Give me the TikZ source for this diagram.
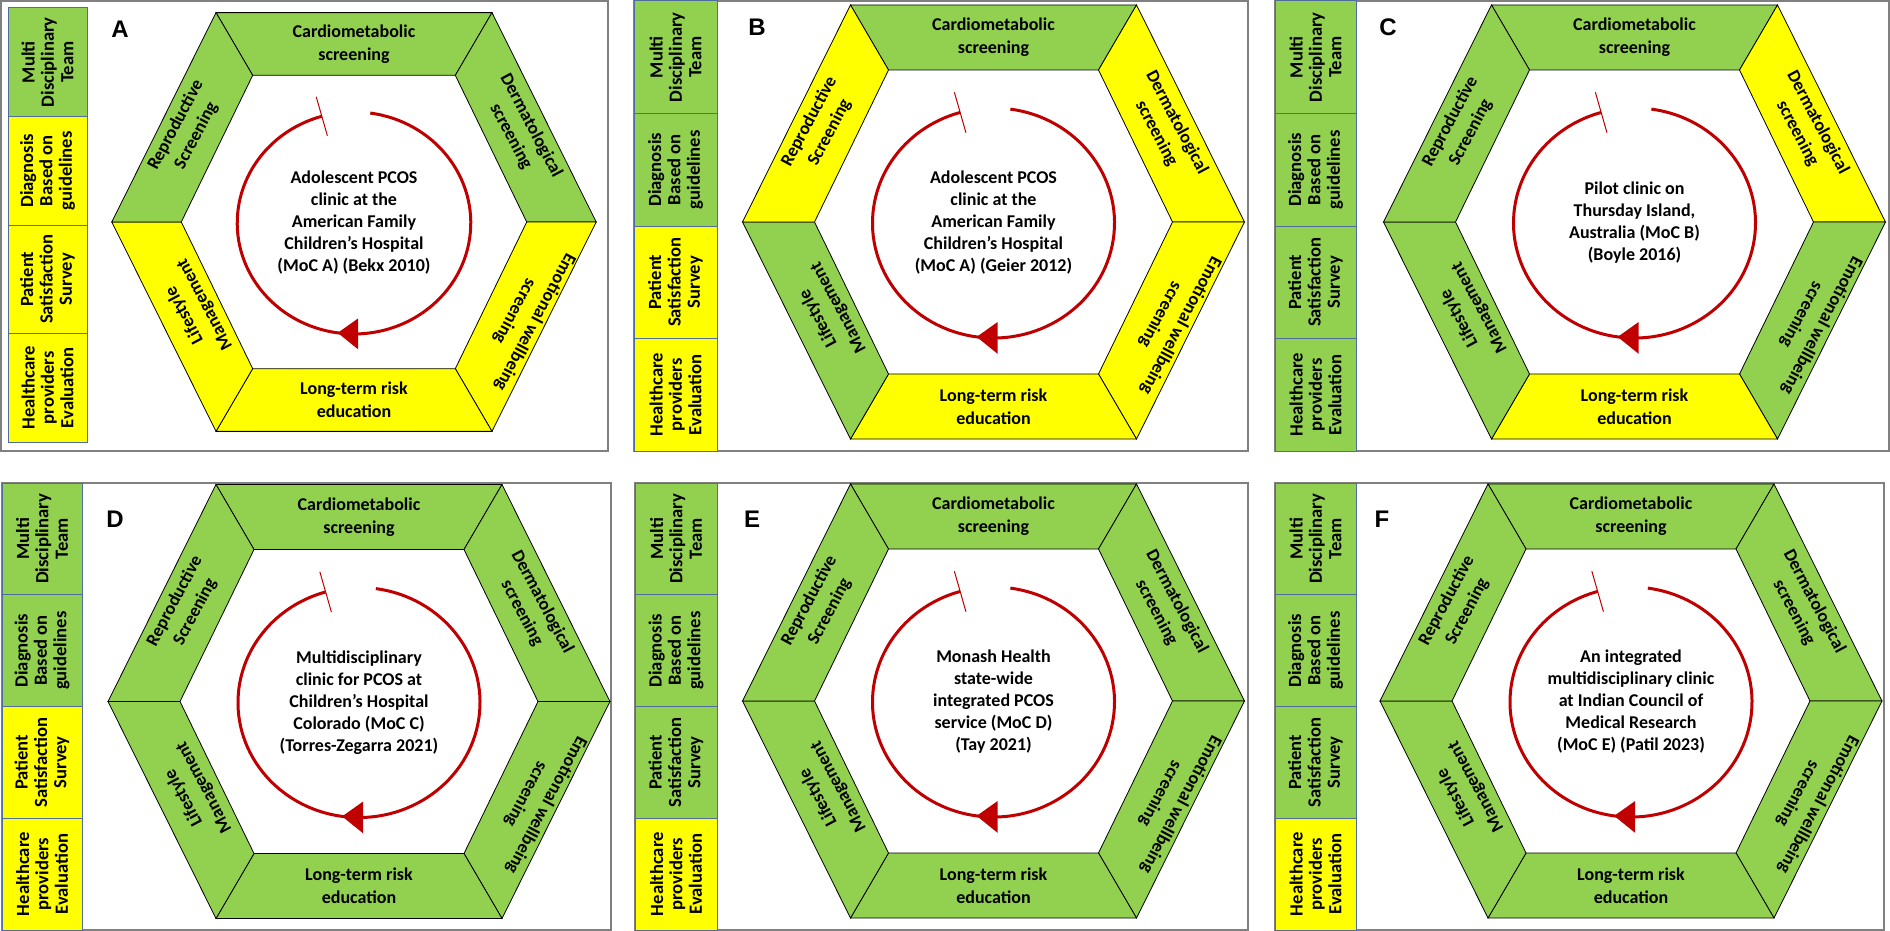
\documentclass[tikz,border=0pt]{standalone}
\usepackage{fontspec}
\setmainfont{Carlito}
\newfontfamily\labfont{Liberation Sans}
\usetikzlibrary{calc}
\definecolor{pgreen}{HTML}{92D050}
\definecolor{pyellow}{HTML}{FFFF00}
\definecolor{pred}{HTML}{C00000}
\definecolor{pframe}{HTML}{808080}
\definecolor{pboxline}{HTML}{4F6E9F}
\tikzset{
  segtext/.style={font=\bfseries\fontsize{9}{11.5}\selectfont, align=center, inner sep=0pt},
  boxtext/.style={font=\bfseries\fontsize{9.3}{9.7}\selectfont, align=center, rotate=90, inner sep=0pt},
  midtext/.style={font=\bfseries\fontsize{9}{11}\selectfont, align=center, inner sep=0pt},
  panelframe/.style={draw=pframe, line width=0.6pt, fill=white},
  sidebox/.style={draw=pboxline, line width=0.5pt},
  seg/.style={draw=black, line width=0.4pt, line join=miter},
  cyclearc/.style={draw=pred, line width=1.5pt},
  cycletick/.style={draw=pred, line width=0.5pt},
  letterlab/.style={font=\labfont\bfseries\fontsize{12}{14}\selectfont, inner sep=0pt},
}
\newcommand\segcolors[6]{\colorlet{cCar}{#1}\colorlet{cDer}{#2}\colorlet{cEmo}{#3}\colorlet{cLon}{#4}\colorlet{cLif}{#5}\colorlet{cRep}{#6}}
\newcommand\hexpanel[5]{%
\begin{scope}[shift={(#1,#2)}, scale=#3]
  \coordinate (#4L) at (-251,0);  \coordinate (#4TL) at (-143,217);
  \coordinate (#4TR) at (143,217); \coordinate (#4R) at (251,0);
  \coordinate (#4BR) at (143,-217); \coordinate (#4BL) at (-143,-217);
  \coordinate (#4l) at (-179,0);  \coordinate (#4tl) at (-105,152);
  \coordinate (#4tr) at (105,152); \coordinate (#4r) at (179,0);
  \coordinate (#4br) at (105,-152); \coordinate (#4bl) at (-105,-152);
  \filldraw[seg, fill=cCar] (#4TL) -- (#4TR) -- (#4tr) -- (#4tl) -- cycle;
  \filldraw[seg, fill=cDer] (#4TR) -- (#4R) -- (#4r) -- (#4tr) -- cycle;
  \filldraw[seg, fill=cEmo] (#4R) -- (#4BR) -- (#4br) -- (#4r) -- cycle;
  \filldraw[seg, fill=cLon] (#4BR) -- (#4BL) -- (#4bl) -- (#4br) -- cycle;
  \filldraw[seg, fill=cLif] (#4BL) -- (#4L) -- (#4l) -- (#4bl) -- cycle;
  \filldraw[seg, fill=cRep] (#4L) -- (#4TL) -- (#4tl) -- (#4l) -- cycle;
  \node[segtext] (#4car) at (0,184.5) {Cardiometabolic\\screening};
  \node[segtext, rotate=-62] (#4der) at (173,94) {Dermatological\\screening};
  \node[segtext, rotate=-118] (#4emo) at (177,-98) {Emotional wellbeing\\screening};
  \node[segtext] (#4lon) at (0,-184.5) {Long-term risk\\education};
  \node[segtext, rotate=118] (#4lif) at (-165,-91) {Lifestyle\\Management};
  \node[segtext, rotate=62] (#4rep) at (-174,95) {Reproductive\\Screening};
  \coordinate (#4cc) at (0,-1);
  \draw[cyclearc] ($(#4cc)+(82:121 and 115)$) arc[start angle=82, end angle=-254, x radius=121, y radius=115];
  \draw[cycletick] ($(#4cc)+(106:142 and 136)$) -- ($(#4cc)+(106:100 and 94)$);
  \fill[pred] ($(#4cc)+(-98:121 and 115)$) -- ($(#4cc)+(-88:121 and 115)+(0,16)$) -- ($(#4cc)+(-88:121 and 115)+(0,-16)$) -- cycle;
  \node[midtext] (#4mid) at (#4cc) {#5};
\end{scope}}
\newcommand\sideboxes[9]{%
  \pgfmathsetmacro\bstep{((#4)-(#5))/4}%
  \pgfmathsetmacro\yA{#4}\pgfmathsetmacro\yB{#4-\bstep}%
  \pgfmathsetmacro\yC{#4-2*\bstep}\pgfmathsetmacro\yD{#4-3*\bstep}%
  \pgfmathsetmacro\xm{(#2+#3)/2}%
  \filldraw[sidebox, fill=#6] (#2,\yA) rectangle (#3,\yB);
  \filldraw[sidebox, fill=#7] (#2,\yB) rectangle (#3,\yC);
  \filldraw[sidebox, fill=#8] (#2,\yC) rectangle (#3,\yD);
  \filldraw[sidebox, fill=#9] (#2,\yD) rectangle (#3,#5);
  \node[boxtext] (#1mdt) at (\xm,{(\yA+\yB)/2}) {Multi\\Disciplinary\\Team};
  \node[boxtext] (#1dia) at (\xm,{(\yB+\yC)/2}) {Diagnosis\\Based on\\guidelines};
  \node[boxtext] (#1pat) at (\xm,{(\yC+\yD)/2}) {Patient\\Satisfaction\\Survey};
  \node[boxtext] (#1hea) at (\xm,{(\yD+#5)/2}) {Healthcare\\providers\\Evaluation};
}
\begin{document}
\begin{tikzpicture}[x=0.5pt, y=0.5pt]
\useasboundingbox (0,0) rectangle (1890,-931);
% Panel A
\draw[panelframe] (1,-1) rectangle (608,-451);
\sideboxes{a}{8}{87}{-8}{-442}{pgreen}{pyellow}{pyellow}{pyellow}
\segcolors{pgreen}{pgreen}{pyellow}{pyellow}{pyellow}{pgreen}
\hexpanel{354}{-222}{0.965}{a}{Adolescent PCOS\\clinic at the\\American Family\\Children’s Hospital\\(MoC A) (Bekx 2010)}
\node[letterlab] (labA) at (120,-29) {A};
% Panel B
\draw[panelframe] (634,-1) rectangle (1248,-451);
\sideboxes{b}{634}{717}{-1}{-451}{pgreen}{pgreen}{pyellow}{pyellow}
\segcolors{pgreen}{pyellow}{pyellow}{pyellow}{pgreen}{pyellow}
\hexpanel{993.5}{-222}{1}{b}{Adolescent PCOS\\clinic at the\\American Family\\Children’s Hospital\\(MoC A) (Geier 2012)}
\node[letterlab] (labB) at (757,-27) {B};
% Panel C
\draw[panelframe] (1275,-1) rectangle (1889,-451);
\sideboxes{c}{1275}{1356}{-1}{-451}{pgreen}{pgreen}{pgreen}{pgreen}
\segcolors{pgreen}{pyellow}{pgreen}{pyellow}{pgreen}{pgreen}
\hexpanel{1634.5}{-222}{1}{c}{Pilot clinic on\\Thursday Island,\\Australia (MoC B)\\(Boyle 2016)}
\node[letterlab] (labC) at (1388,-27) {C};
% Panel D
\draw[panelframe] (2,-483) rectangle (611,-930);
\sideboxes{d}{2}{82}{-483}{-930}{pgreen}{pgreen}{pyellow}{pyellow}
\segcolors{pgreen}{pgreen}{pgreen}{pgreen}{pgreen}{pgreen}
\hexpanel{359}{-701.5}{1}{d}{Multidisciplinary\\clinic for PCOS at\\Children’s Hospital\\Colorado (MoC C)\\(Torres-Zegarra 2021)}
\node[letterlab] (labD) at (115,-519) {D};
% Panel E
\draw[panelframe] (635,-483) rectangle (1248,-930);
\sideboxes{e}{635}{717}{-483}{-930}{pgreen}{pgreen}{pgreen}{pyellow}
\hexpanel{993.5}{-701}{1}{e}{Monash Health\\state-wide\\integrated PCOS\\service (MoC D)\\(Tay 2021)}
\node[letterlab] (labE) at (752,-519) {E};
% Panel F
\draw[panelframe] (1275,-483) rectangle (1884,-930);
\sideboxes{f}{1275}{1356}{-483}{-930}{pgreen}{pgreen}{pgreen}{pyellow}
\hexpanel{1631}{-701}{1}{f}{An integrated\\multidisciplinary clinic\\at Indian Council of\\Medical Research\\(MoC E) (Patil 2023)}
\node[letterlab] (labF) at (1382,-519) {F};
\end{tikzpicture}
\end{document}
